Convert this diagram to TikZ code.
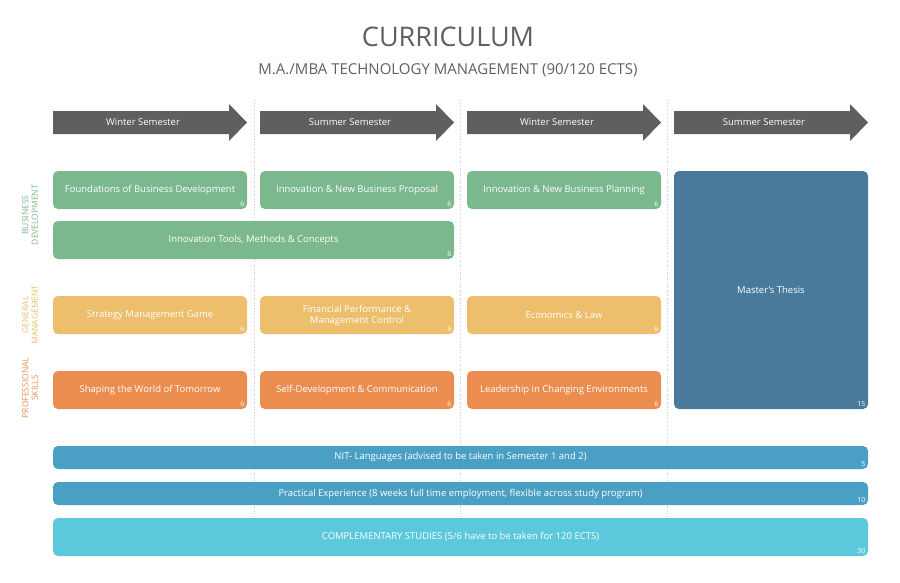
\documentclass[tikz,border=0pt]{standalone}
\usepackage{fontspec}
\setmainfont{Open Sans}

\definecolor{bizgreen}{HTML}{7BB88D}
\definecolor{mgmtyellow}{HTML}{EDBE6C}
\definecolor{skillorange}{HTML}{EC8D50}
\definecolor{thesisblue}{HTML}{4A7A9B}
\definecolor{barblue}{HTML}{4A9FC4}
\definecolor{compcyan}{HTML}{5CC8DB}
\definecolor{semgray}{HTML}{5F5F5F}
\definecolor{titlegray}{HTML}{606060}

\tikzset{
  course/.style = {text=white, font=\fontsize{9.5}{11}\selectfont, align=center},
  credit/.style = {text=white, font=\fontsize{7}{8}\selectfont, anchor=south east, inner sep=2.5pt},
  track/.style = {rotate=90, align=center, font=\fontsize{8.5}{9.5}\selectfont},
  divider/.style = {gray!40, dotted, line width=0.6pt}
}

% name, x1, y1, x2, y2, colour, text, credits
\newcommand{\course}[8]{
  \fill[#6, rounded corners=5pt] (#2,#3) rectangle (#4,#5);
  \node[course] (#1) at ({(#2+#4)/2},{(#3+#5)/2}) {#7};
  \node[credit] (#1-c) at (#4,#5) {#8};
}

\begin{document}
\begin{tikzpicture}[x=1pt, y=-1pt]
  \useasboundingbox (0,0) rectangle (900,582);

  \node[text=titlegray, font=\fontsize{27}{30}\selectfont] (title) at (448,37) {CURRICULUM};
  \node[text=titlegray, font=\fontsize{15}{17}\selectfont] (subtitle) at (448,70) {M.A./MBA TECHNOLOGY MANAGEMENT (90/120 ECTS)};

  \foreach \x in {254,460,667}
    \draw[divider] (\x,100) -- (\x,520);

  \foreach \x/\s [count=\i] in {53/Winter Semester,260/Summer Semester,467/Winter Semester,674/Summer Semester}{
    \fill[semgray] (\x,111) -- (\x+176,111) -- (\x+176,104) -- (\x+194,122.5)
      -- (\x+176,141) -- (\x+176,134) -- (\x,134) -- cycle;
    \node[course] (sem\i) at (\x+90,122.5) {\s};
  }

  \node[track, text=bizgreen] (biz) at (30,215) {BUSINESS\\DEVELOPMENT};
  \node[track, text=mgmtyellow] (mgmt) at (30,315) {GENERAL\\MANAGEMENT};
  \node[track, text=skillorange] (skill) at (30,388) {PROFESSIONAL\\SKILLS};

  \course{fbd}{53}{171}{247}{209}{bizgreen}{Foundations of Business Development}{6}
  \course{inbp}{260}{171}{454}{209}{bizgreen}{Innovation \& New Business Proposal}{6}
  \course{inbpl}{467}{171}{661}{209}{bizgreen}{Innovation \& New Business Planning}{6}
  \course{itmc}{53}{221}{454}{259}{bizgreen}{Innovation Tools, Methods \& Concepts}{6}

  \course{smg}{53}{296}{247}{334}{mgmtyellow}{Strategy Management Game}{6}
  \course{fpmc}{260}{296}{454}{334}{mgmtyellow}{Financial Performance \&\\Management Control}{6}
  \course{el}{467}{296}{661}{334}{mgmtyellow}{Economics \& Law}{6}

  \course{swt}{53}{371}{247}{409}{skillorange}{Shaping the World of Tomorrow}{6}
  \course{sdc}{260}{371}{454}{409}{skillorange}{Self-Development \& Communication}{6}
  \course{lce}{467}{371}{661}{409}{skillorange}{Leadership in Changing Environments}{6}

  \course{thesis}{674}{171}{868}{409}{thesisblue}{Master's Thesis}{15}

  \course{nit}{53}{446}{868}{469}{barblue}{NIT- Languages (advised to be taken in Semester 1 and 2)}{5}
  \course{prac}{53}{482}{868}{505}{barblue}{Practical Experience (8 weeks full time employment, flexible across study program)}{10}
  \course{comp}{53}{518}{868}{556}{compcyan}{COMPLEMENTARY STUDIES (5/6 have to be taken for 120 ECTS)}{30}
\end{tikzpicture}
\end{document}
